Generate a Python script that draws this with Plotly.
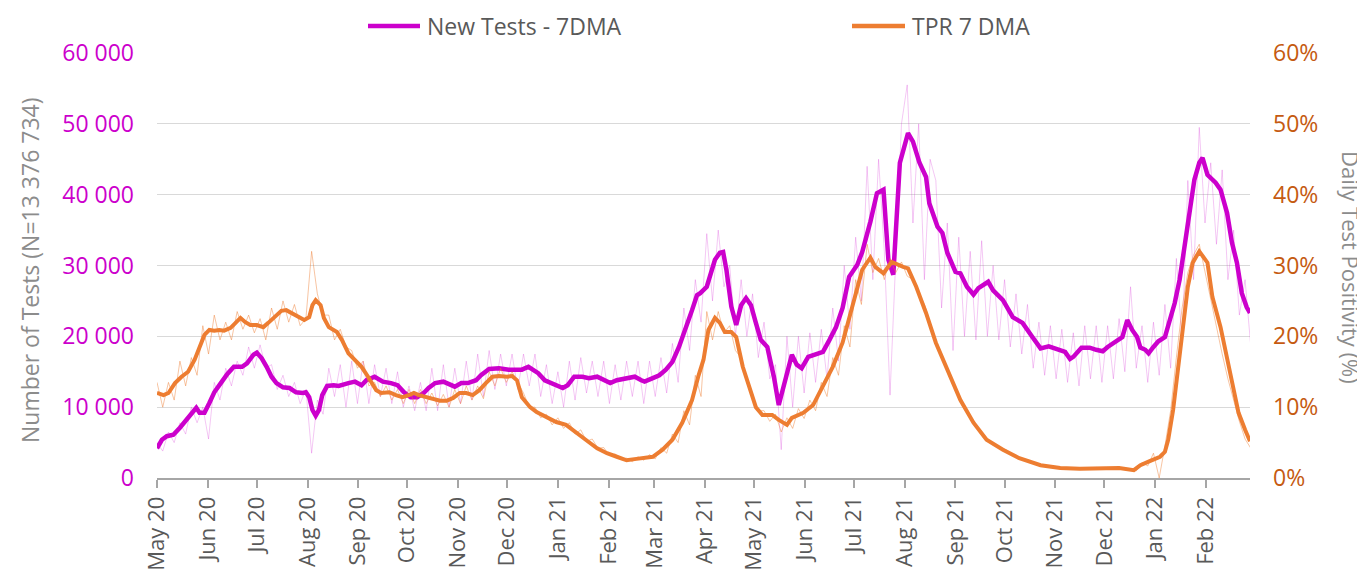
import pandas as pd
import plotly.graph_objects as go

# 7-day moving average of new tests
tests_ma_dates = [
    "2020-05-01", "2020-05-04", "2020-05-07", "2020-05-11", "2020-05-15", "2020-05-19", "2020-05-23",
    "2020-05-25", "2020-05-27", "2020-05-30", "2020-06-02", "2020-06-05", "2020-06-09", "2020-06-13",
    "2020-06-17", "2020-06-22", "2020-06-25", "2020-06-29", "2020-07-01", "2020-07-04", "2020-07-07",
    "2020-07-10", "2020-07-13", "2020-07-17", "2020-07-21", "2020-07-25", "2020-07-29", "2020-07-31",
    "2020-08-02", "2020-08-04", "2020-08-06", "2020-08-08", "2020-08-10", "2020-08-13", "2020-08-17",
    "2020-08-20", "2020-08-26", "2020-08-30", "2020-09-03", "2020-09-06", "2020-09-11", "2020-09-16",
    "2020-09-21", "2020-09-25", "2020-09-29", "2020-10-03", "2020-10-07", "2020-10-11", "2020-10-14",
    "2020-10-18", "2020-10-23", "2020-10-27", "2020-10-30", "2020-11-03", "2020-11-07", "2020-11-12",
    "2020-11-15", "2020-11-20", "2020-11-26", "2020-12-02", "2020-12-06", "2020-12-10", "2020-12-14",
    "2020-12-17", "2020-12-20", "2020-12-24", "2020-12-31", "2021-01-04", "2021-01-07", "2021-01-11",
    "2021-01-16", "2021-01-20", "2021-01-25", "2021-01-29", "2021-02-02", "2021-02-06", "2021-02-11",
    "2021-02-17", "2021-02-21", "2021-02-23", "2021-02-28", "2021-03-04", "2021-03-08", "2021-03-12",
    "2021-03-16", "2021-03-20", "2021-03-24", "2021-03-27", "2021-03-29", "2021-04-02", "2021-04-07",
    "2021-04-10", "2021-04-12", "2021-04-14", "2021-04-17", "2021-04-20", "2021-04-23", "2021-04-26",
    "2021-04-29", "2021-05-02", "2021-05-05", "2021-05-09", "2021-05-13", "2021-05-16", "2021-05-19",
    "2021-05-24", "2021-05-27", "2021-05-30", "2021-06-03", "2021-06-07", "2021-06-12", "2021-06-16",
    "2021-06-20", "2021-06-24", "2021-06-28", "2021-07-03", "2021-07-06", "2021-07-11", "2021-07-15",
    "2021-07-19", "2021-07-22", "2021-07-25", "2021-07-29", "2021-08-03", "2021-08-06", "2021-08-10",
    "2021-08-14", "2021-08-16", "2021-08-21", "2021-08-24", "2021-08-27", "2021-09-01", "2021-09-04",
    "2021-09-08", "2021-09-12", "2021-09-15", "2021-09-21", "2021-09-24", "2021-09-30", "2021-10-06",
    "2021-10-12", "2021-10-18", "2021-10-23", "2021-10-28", "2021-11-04", "2021-11-07", "2021-11-10",
    "2021-11-12", "2021-11-17", "2021-11-22", "2021-11-26", "2021-11-30", "2021-12-03", "2021-12-07",
    "2021-12-12", "2021-12-15", "2021-12-18", "2021-12-21", "2021-12-23", "2021-12-26", "2021-12-28",
    "2021-12-31", "2022-01-03", "2022-01-07", "2022-01-10", "2022-01-13", "2022-01-16", "2022-01-19",
    "2022-01-22", "2022-01-25", "2022-01-28", "2022-01-30", "2022-02-02", "2022-02-07", "2022-02-10",
    "2022-02-14", "2022-02-17", "2022-02-20", "2022-02-23", "2022-02-26", "2022-02-28",
]
tests_ma = [
    4200, 5400, 5900, 6100, 7100, 8200, 9300,
    9900, 9200, 9200, 10600, 12100, 13400, 14700,
    15700, 15700, 16200, 17400, 17700, 16900, 15700,
    14300, 13400, 12800, 12700, 12100, 12000, 12100,
    11400, 9600, 8800, 9600, 11700, 13000, 13100,
    13000, 13400, 13600, 13100, 13800, 14300, 13600,
    13400, 13100, 12100, 11400, 11400, 12000, 12700,
    13400, 13600, 13100, 12900, 13400, 13400, 13800,
    14500, 15400, 15500, 15300, 15300, 15300, 15700,
    15300, 14800, 13800, 13000, 12700, 13100, 14300,
    14300, 14100, 14300, 13800, 13400, 13800, 14100,
    14300, 13800, 13600, 14100, 14500, 15300, 16400,
    18500, 20900, 23700, 25800, 26100, 27000, 30800,
    31800, 31900, 29400, 24200, 21600, 24400, 25400,
    24400, 21900, 19500, 18500, 14300, 10300, 12900,
    17400, 16000, 15500, 17100, 17400, 17800, 19500,
    21300, 24000, 28400, 30100, 31900, 36200, 40200,
    40700, 30800, 28700, 44500, 48700, 47500, 44500,
    42500, 38800, 35500, 34600, 31800, 29100, 28900,
    27000, 25900, 26800, 27700, 26500, 25100, 22700,
    21900, 19900, 18300, 18600, 18100, 17800, 16800,
    17100, 18400, 18400, 18100, 17900, 18500, 19200,
    19900, 22300, 20900, 19900, 18400, 18100, 17600,
    18500, 19300, 19900, 22300, 24700, 28000, 32600,
    36900, 42100, 44500, 45200, 42800, 41700, 40700,
    37400, 33200, 30400, 26100, 24100, 23300,
]

# 7-day moving average of test positivity, %
tpr_ma_dates = [
    "2020-05-01", "2020-05-05", "2020-05-08", "2020-05-12", "2020-05-16", "2020-05-20", "2020-05-24",
    "2020-05-27", "2020-05-30", "2020-06-02", "2020-06-05", "2020-06-08", "2020-06-11", "2020-06-15",
    "2020-06-18", "2020-06-21", "2020-06-24", "2020-06-27", "2020-07-01", "2020-07-05", "2020-07-08",
    "2020-07-12", "2020-07-16", "2020-07-19", "2020-07-23", "2020-07-27", "2020-07-30", "2020-08-02",
    "2020-08-04", "2020-08-06", "2020-08-09", "2020-08-11", "2020-08-14", "2020-08-19", "2020-08-22",
    "2020-08-26", "2020-08-30", "2020-09-03", "2020-09-07", "2020-09-12", "2020-09-15", "2020-09-20",
    "2020-09-24", "2020-09-28", "2020-10-02", "2020-10-05", "2020-10-08", "2020-10-13", "2020-10-16",
    "2020-10-21", "2020-10-25", "2020-10-29", "2020-11-02", "2020-11-06", "2020-11-10", "2020-11-14",
    "2020-11-18", "2020-11-22", "2020-11-26", "2020-12-01", "2020-12-04", "2020-12-07", "2020-12-10",
    "2020-12-15", "2020-12-19", "2020-12-25", "2020-12-31", "2021-01-06", "2021-01-12", "2021-01-18",
    "2021-01-25", "2021-01-31", "2021-02-06", "2021-02-12", "2021-02-18", "2021-02-24", "2021-02-28",
    "2021-03-06", "2021-03-12", "2021-03-18", "2021-03-24", "2021-03-28", "2021-03-31", "2021-04-03",
    "2021-04-07", "2021-04-10", "2021-04-13", "2021-04-17", "2021-04-20", "2021-04-24", "2021-04-28",
    "2021-05-02", "2021-05-06", "2021-05-12", "2021-05-16", "2021-05-21", "2021-05-24", "2021-05-31",
    "2021-06-06", "2021-06-12", "2021-06-18", "2021-06-24", "2021-06-30", "2021-07-06", "2021-07-11",
    "2021-07-14", "2021-07-19", "2021-07-24", "2021-07-31", "2021-08-03", "2021-08-08", "2021-08-14",
    "2021-08-20", "2021-08-27", "2021-09-04", "2021-09-12", "2021-09-20", "2021-09-30", "2021-10-10",
    "2021-10-23", "2021-11-04", "2021-11-16", "2021-11-28", "2021-12-10", "2021-12-19", "2021-12-23",
    "2021-12-28", "2022-01-04", "2022-01-07", "2022-01-09", "2022-01-12", "2022-01-15", "2022-01-18",
    "2022-01-21", "2022-01-24", "2022-01-28", "2022-02-02", "2022-02-05", "2022-02-10", "2022-02-14",
    "2022-02-17", "2022-02-21", "2022-02-25", "2022-02-28",
]
tpr_ma = [
    12.0, 11.7, 12.0, 13.4, 14.3, 15.0, 16.7,
    18.5, 20.2, 20.9, 20.8, 20.9, 20.8, 21.2,
    22.0, 22.6, 22.0, 21.6, 21.6, 21.3, 21.9,
    22.7, 23.6, 23.7, 23.2, 22.7, 22.3, 22.7,
    24.4, 25.1, 24.4, 22.6, 21.3, 20.6, 19.5,
    17.6, 16.7, 15.7, 14.3, 12.4, 12.0, 12.1,
    11.7, 11.4, 11.7, 12.0, 11.7, 11.4, 11.3,
    10.9, 10.9, 11.3, 12.0, 12.0, 11.7, 12.4,
    13.4, 14.3, 14.4, 14.3, 14.4, 13.8, 11.4,
    10.0, 9.3, 8.6, 7.9, 7.5, 6.4, 5.4,
    4.2, 3.5, 3.0, 2.5, 2.7, 2.8, 3.0,
    4.0, 5.4, 7.8, 11.0, 14.5, 16.7, 20.9,
    22.6, 21.9, 20.6, 20.6, 19.9, 15.7, 12.9,
    10.0, 8.9, 8.9, 8.2, 7.5, 8.5, 9.2,
    10.3, 12.9, 15.7, 19.1, 24.2, 29.4, 31.1,
    29.8, 28.9, 30.5, 29.8, 29.6, 27.0, 23.3,
    19.1, 15.3, 11.0, 7.8, 5.4, 4.0, 2.8,
    1.8, 1.4, 1.3, 1.3, 1.4, 1.1, 1.8,
    2.3, 3.0, 3.7, 5.4, 9.6, 15.7, 21.9,
    27.0, 30.4, 32.0, 30.4, 25.6, 21.3, 17.1,
    13.4, 9.2, 6.8, 5.2,
]

# raw daily readings, two per week (every 3.5 days from 1 May 2020)
raw_start = "2020-05-01"
tests_raw = [
    5000, 3800, 6500, 5000, 7800, 6200, 10000, 7800, 10000, 5500,
    13500, 11000, 15500, 13000, 16500, 14500, 18500, 15500, 18800, 15500,
    16000, 12500, 14500, 11500, 13500, 10500, 12500, 3500, 11000, 9000,
    15500, 11500, 16000, 10000, 16500, 10500, 16500, 10500, 16000, 11500,
    15500, 10500, 15000, 10000, 13000, 9500, 13500, 9500, 15500, 9500,
    16000, 10000, 15500, 10500, 16500, 11000, 17500, 11500, 18000, 12500,
    17500, 13000, 17500, 12500, 17500, 13000, 17500, 11500, 16000, 10500,
    15000, 10000, 16500, 11000, 17000, 12000, 16500, 11500, 16500, 10500,
    16000, 11000, 16500, 11500, 16500, 10500, 16500, 11500, 17000, 12000,
    19000, 13500, 24000, 18000, 28000, 22000, 34500, 25000, 35000, 27000,
    30000, 20000, 28000, 20000, 26000, 17000, 22000, 14000, 16000, 4000,
    20000, 10000, 20000, 12000, 20500, 13500, 21000, 14000, 24000, 16500,
    30000, 21000, 34000, 25000, 44000, 28000, 45000, 32000, 11700, 30000,
    50000, 55500, 36000, 50000, 28000, 45000, 42000, 24000, 36000, 18000,
    34000, 20000, 32000, 19500, 33500, 20000, 30000, 19500, 28000, 18500,
    26000, 17500, 24500, 15500, 22000, 14500, 21500, 14000, 21000, 13500,
    20500, 13000, 21500, 14000, 21500, 13500, 21500, 14000, 22500, 15000,
    27000, 15500, 21500, 13500, 22000, 14500, 24500, 15500, 31000, 19000,
    42000, 28000, 49500, 36000, 44500, 33000, 43500, 28000, 35000, 23000,
    28000, 18500,
]
tpr_raw = [
    13.5, 10.0, 13.5, 11.0, 16.5, 13.0, 17.0, 14.5, 21.5, 17.5,
    23.0, 19.5, 22.0, 19.5, 23.5, 21.0, 23.0, 20.5, 22.5, 19.5,
    24.0, 21.0, 25.0, 22.0, 24.5, 21.5, 22.5, 32.0, 26.0, 23.0,
    23.0, 19.5, 21.0, 18.5, 18.0, 15.5, 16.5, 13.0, 13.5, 11.5,
    13.0, 11.0, 12.5, 10.5, 12.5, 10.5, 12.5, 10.5, 12.0, 10.2,
    11.8, 10.0, 12.5, 10.5, 13.0, 11.0, 13.0, 11.2, 15.0, 13.0,
    15.5, 13.5, 15.0, 13.5, 12.0, 10.0, 10.0, 8.5, 9.0, 7.5,
    8.5, 7.0, 7.8, 6.2, 6.8, 5.2, 5.5, 4.2, 4.3, 3.2,
    3.4, 2.7, 2.8, 2.3, 3.0, 2.5, 3.3, 2.7, 4.3, 3.5,
    6.2, 5.0, 9.5, 7.5, 14.5, 11.5, 23.5, 19.5, 23.5, 20.5,
    21.5, 18.0, 17.0, 14.0, 11.5, 9.5, 9.5, 8.0, 9.0, 6.5,
    8.5, 7.0, 9.8, 8.4, 11.0, 9.5, 13.5, 11.5, 17.0, 14.5,
    21.5, 18.5, 28.0, 24.5, 33.0, 29.0, 31.0, 28.0, 31.0, 29.0,
    30.5, 28.5, 28.0, 26.0, 24.5, 22.0, 19.5, 17.5, 15.5, 13.5,
    11.5, 10.0, 8.5, 7.5, 6.2, 5.4, 5.0, 4.3, 4.1, 3.6,
    3.2, 2.7, 2.6, 2.2, 2.0, 1.7, 1.7, 1.4, 1.5, 1.2,
    1.4, 1.2, 1.4, 1.2, 1.5, 1.3, 1.5, 1.3, 1.5, 1.3,
    1.3, 1.0, 2.2, 1.7, 3.5, 0.0, 4.5, 9.5, 17.0, 24.0,
    29.0, 31.5, 33.0, 29.0, 25.0, 21.0, 17.5, 14.0, 11.0, 8.0,
    5.5, 4.2,
]

raw_dates = pd.date_range(raw_start, periods=len(tests_raw), freq="84h")

MAGENTA = "#CC00CC"
ORANGE = "#ED7D31"
FONT = "Open Sans"

fig = go.Figure()

fig.add_trace(go.Scatter(
    x=raw_dates, y=tests_raw, mode="lines",
    line=dict(color="rgba(204,0,204,0.22)", width=1),
    showlegend=False, hoverinfo="skip"))
fig.add_trace(go.Scatter(
    x=raw_dates, y=tpr_raw, mode="lines", yaxis="y2",
    line=dict(color="rgba(237,125,49,0.45)", width=1),
    showlegend=False, hoverinfo="skip"))
fig.add_trace(go.Scatter(
    x=pd.to_datetime(tests_ma_dates), y=tests_ma, mode="lines",
    line=dict(color=MAGENTA, width=4.5), name="New Tests - 7DMA", showlegend=False))
fig.add_trace(go.Scatter(
    x=pd.to_datetime(tpr_ma_dates), y=tpr_ma, mode="lines", yaxis="y2",
    line=dict(color=ORANGE, width=4), name="TPR 7 DMA", showlegend=False))

# the page body adds an 8 px offset, so the figure is laid out 8 px up and left
OFF = 8
W, H = 1365 - OFF, 571 - OFF
L, T = 157 - OFF, 53 - OFF
R, B = W - (1250 - OFF), H - (478 - OFF)
PW, PH = W - L - R, H - T - B


def px(x):
    # screen x of the reference -> paper coordinate
    return (x - OFF - L) / PW


def py(y):
    return (H - B - (y - OFF)) / PH


# hand-drawn legend so the line samples get the reference's length
legend_items = [("New Tests - 7DMA", MAGENTA, 368, 420), ("TPR 7 DMA", ORANGE, 852, 905)]
for label, color, x0, x1 in legend_items:
    fig.add_shape(type="line", xref="paper", yref="paper",
                  x0=px(x0), x1=px(x1), y0=py(26), y1=py(26),
                  line=dict(color=color, width=4.5))
    fig.add_annotation(xref="paper", yref="paper", x=px(x1 + 5), y=py(26),
                       xanchor="left", yanchor="middle", showarrow=False,
                       text=label, font=dict(family=FONT, size=23, color="#595959"))

fig.add_annotation(xref="paper", yref="paper", x=px(30), y=py(270),
                   text="Number of Tests (N=13 376 734)", textangle=-90, showarrow=False,
                   xanchor="center", yanchor="middle",
                   font=dict(family=FONT, size=23, color="#8C8C8C"))
fig.add_annotation(xref="paper", yref="paper", x=px(1351), y=py(268),
                   text="Daily Test Positivity (%)", textangle=90, showarrow=False,
                   xanchor="center", yanchor="middle",
                   font=dict(family=FONT, size=22, color="#8C8C8C"))

fig.update_layout(
    width=W, height=H,
    margin=dict(l=L, r=R, t=T, b=B, autoexpand=False),
    paper_bgcolor="white", plot_bgcolor="white",
    separators=". ",
    font=dict(family=FONT),
    showlegend=False,
    xaxis=dict(
        type="date", range=["2020-05-01", "2022-02-28"],
        tick0="2020-05-01", dtick="M1", tickformat="%b %y",
        tickangle=-90, ticks="outside", ticklen=8, tickwidth=2, tickcolor="#A6A6A6",
        showline=True, linecolor="#A6A6A6", linewidth=2, showgrid=False,
        tickfont=dict(family=FONT, size=22, color="#595959"),
    ),
    yaxis=dict(
        range=[0, 60000], dtick=10000, tickformat=",d",
        showgrid=True, gridcolor="#D9D9D9", gridwidth=1, zeroline=False,
        ticklabelstandoff=22,
        tickfont=dict(family=FONT, size=23, color=MAGENTA),
    ),
    yaxis2=dict(
        range=[0, 60], dtick=10, ticksuffix="%", overlaying="y", side="right",
        showgrid=False, zeroline=False, ticklabelstandoff=22,
        tickfont=dict(family=FONT, size=23, color="#C55A11"),
    ),
)

fig.write_html("out.html")
